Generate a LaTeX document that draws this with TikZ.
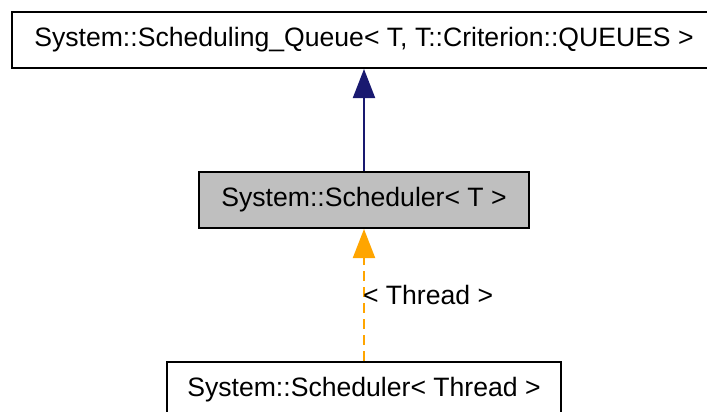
\documentclass[tikz,border=0pt]{standalone}
\usepackage{fontspec}
\setmainfont{Liberation Sans}
\usetikzlibrary{arrows.meta}
\definecolor{edgeblue}{HTML}{191970}
\definecolor{edgeorange}{HTML}{FFA500}
\definecolor{classgray}{HTML}{BFBFBF}
\begin{document}
\begin{tikzpicture}[x=1pt,y=-1pt,
  classbox/.style={draw=black,line width=2pt,inner sep=0pt,
    font=\fontsize{26.6}{30}\selectfont},
  inherit/.style={draw=edgeblue,line width=2pt,
    -{Triangle[length=29pt,width=22pt]}},
  templ/.style={draw=edgeorange,line width=2pt,dash pattern=on 10pt off 6pt,
    -{Triangle[length=29pt,width=22pt]}},
  lbl/.style={font=\fontsize{26.6}{30}\selectfont,inner sep=0pt}]
\useasboundingbox (0,0) rectangle (707,412);
\node[classbox,minimum width=704pt,minimum height=56pt] (queue) at (364,40)
  {System::Scheduling\_Queue< T, T::Criterion::QUEUES >};
\node[classbox,fill=classgray,minimum width=330pt,minimum height=56pt] (sched) at (364,200)
  {System::Scheduler< T >};
\node[classbox,minimum width=394pt,minimum height=56pt] (thread) at (364,390)
  {System::Scheduler< Thread >};
\draw[inherit] (sched.north) -- (sched.north |- queue.south);
\draw[templ] (thread.north) -- (sched.south) node[lbl,pos=0.5,anchor=west,xshift=-2pt] {< Thread >};
\end{tikzpicture}
\end{document}
